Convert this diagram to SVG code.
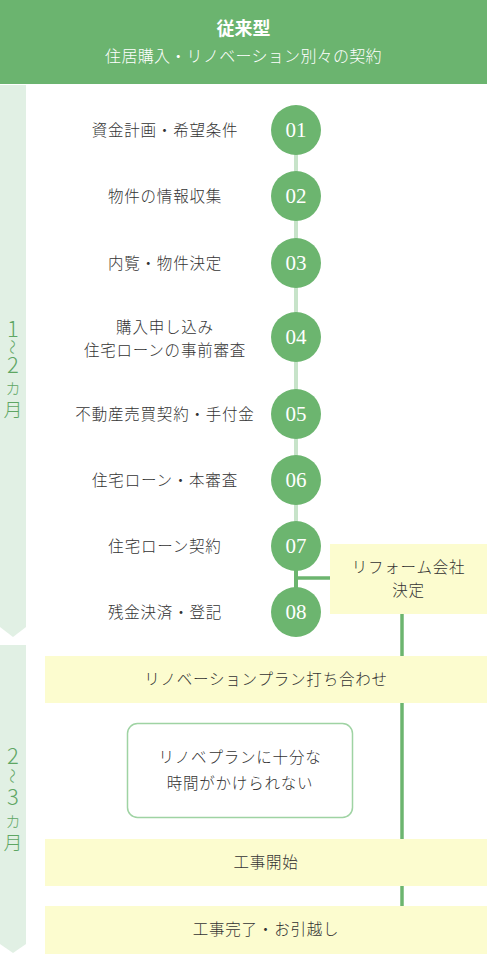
<svg xmlns="http://www.w3.org/2000/svg" width="487" height="954" viewBox="0 0 487 954">
<style>
.t{font-family:"Noto Sans CJK JP","Liberation Sans",sans-serif;fill:#333;font-size:15.5px;text-anchor:middle;letter-spacing:0.8px;font-weight:300}
.num{font-family:"Liberation Serif",serif;fill:#fff;font-size:21px;text-anchor:middle}
.circ{fill:#6cb56f}
.yb{fill:#fcfccf}
.band{fill:#e1f0e4}
.lab{font-family:"Noto Sans CJK JP","Liberation Sans",sans-serif;fill:#5ea663;text-anchor:middle;font-weight:300}
.lj{font-family:"Noto Sans CJK JP",sans-serif;fill:#5ea663;text-anchor:middle;font-weight:300}
</style>
<rect width="487" height="954" fill="#fff"/>
<g id="header">
<rect x="0" y="0" width="487" height="84" fill="#6bb46f"/>
<text x="243.5" y="35" font-family="Noto Sans CJK JP,sans-serif" font-weight="bold" font-size="18" fill="#fff" text-anchor="middle">従来型</text>
<text x="243.5" y="62" font-family="Noto Sans CJK JP,sans-serif" font-size="16" font-weight="300" fill="#fff" text-anchor="middle" letter-spacing="0.3">住居購入・リノベーション別々の契約</text>
</g>
<g id="band1">
<polygon class="band" points="0,85 26,85 26,627 13,637 0,627"/>
<text class="lab" x="13" y="337" font-size="22">1</text>
<text class="lj" x="0" y="0" font-size="15" transform="translate(13,347) rotate(90)" dominant-baseline="central">〜</text>
<text class="lab" x="13" y="373" font-size="22">2</text>
<text class="lj" x="13" y="394" font-size="15">カ</text>
<text class="lj" x="13" y="417" font-size="19">月</text>
</g>
<g id="band2">
<polygon class="band" points="0,645 26,645 26,944 13,953 0,944"/>
<text class="lab" x="13" y="764" font-size="22">2</text>
<text class="lj" x="0" y="0" font-size="15" transform="translate(13,776) rotate(90)" dominant-baseline="central">〜</text>
<text class="lab" x="13" y="805" font-size="22">3</text>
<text class="lj" x="13" y="827" font-size="15">カ</text>
<text class="lj" x="13" y="850" font-size="19">月</text>
</g>
<g id="connectors">
<line x1="296" y1="130" x2="296" y2="546" stroke="#c7e3c9" stroke-width="4"/>
<line x1="296" y1="546" x2="296" y2="612" stroke="#6cb56f" stroke-width="4"/>
<line x1="296" y1="578" x2="331" y2="578" stroke="#6cb56f" stroke-width="3.5"/>
<line x1="402" y1="614" x2="402" y2="906" stroke="#6cb56f" stroke-width="3.5"/>
</g>
<g id="step01"><text class="t" x="165" y="136">資金計画・希望条件</text><circle class="circ" cx="296" cy="130" r="25"/><text class="num" x="296" y="137">01</text></g>
<g id="step02"><text class="t" x="165" y="202">物件の情報収集</text><circle class="circ" cx="296" cy="196" r="25"/><text class="num" x="296" y="203">02</text></g>
<g id="step03"><text class="t" x="165" y="269">内覧・物件決定</text><circle class="circ" cx="296" cy="263" r="25"/><text class="num" x="296" y="270">03</text></g>
<g id="step04"><text class="t" x="165" y="333">購入申し込み</text><text class="t" x="165" y="356">住宅ローンの事前審査</text><circle class="circ" cx="296" cy="337" r="25"/><text class="num" x="296" y="344">04</text></g>
<g id="step05"><text class="t" x="165" y="420">不動産売買契約・手付金</text><circle class="circ" cx="296" cy="414" r="25"/><text class="num" x="296" y="421">05</text></g>
<g id="step06"><text class="t" x="165" y="486">住宅ローン・本審査</text><circle class="circ" cx="296" cy="480" r="25"/><text class="num" x="296" y="487">06</text></g>
<g id="step07"><text class="t" x="165" y="552">住宅ローン契約</text><circle class="circ" cx="296" cy="546" r="25"/><text class="num" x="296" y="553">07</text></g>
<g id="step08"><text class="t" x="165" y="618">残金決済・登記</text><circle class="circ" cx="296" cy="612" r="25"/><text class="num" x="296" y="619">08</text></g>
<g id="reform"><rect class="yb" x="330" y="544" width="157" height="70"/><text class="t" x="408.5" y="573">リフォーム会社</text><text class="t" x="408.5" y="596">決定</text></g>
<g id="plan"><rect class="yb" x="45" y="656" width="442" height="47"/><text class="t" x="266" y="685">リノベーションプラン打ち合わせ</text></g>
<g id="note"><rect x="127.5" y="723.5" width="225" height="94" rx="10" ry="10" fill="#fff" stroke="#9fd3a3" stroke-width="1.5"/><text class="t" x="240" y="763" font-size="14.5">リノベプランに十分な</text><text class="t" x="240" y="789" font-size="14.5">時間がかけられない</text></g>
<g id="start"><rect class="yb" x="45" y="839" width="442" height="47"/><text class="t" x="266" y="868">工事開始</text></g>
<g id="finish"><rect class="yb" x="45" y="906" width="442" height="48"/><text class="t" x="266" y="935">工事完了・お引越し</text></g>
</svg>
